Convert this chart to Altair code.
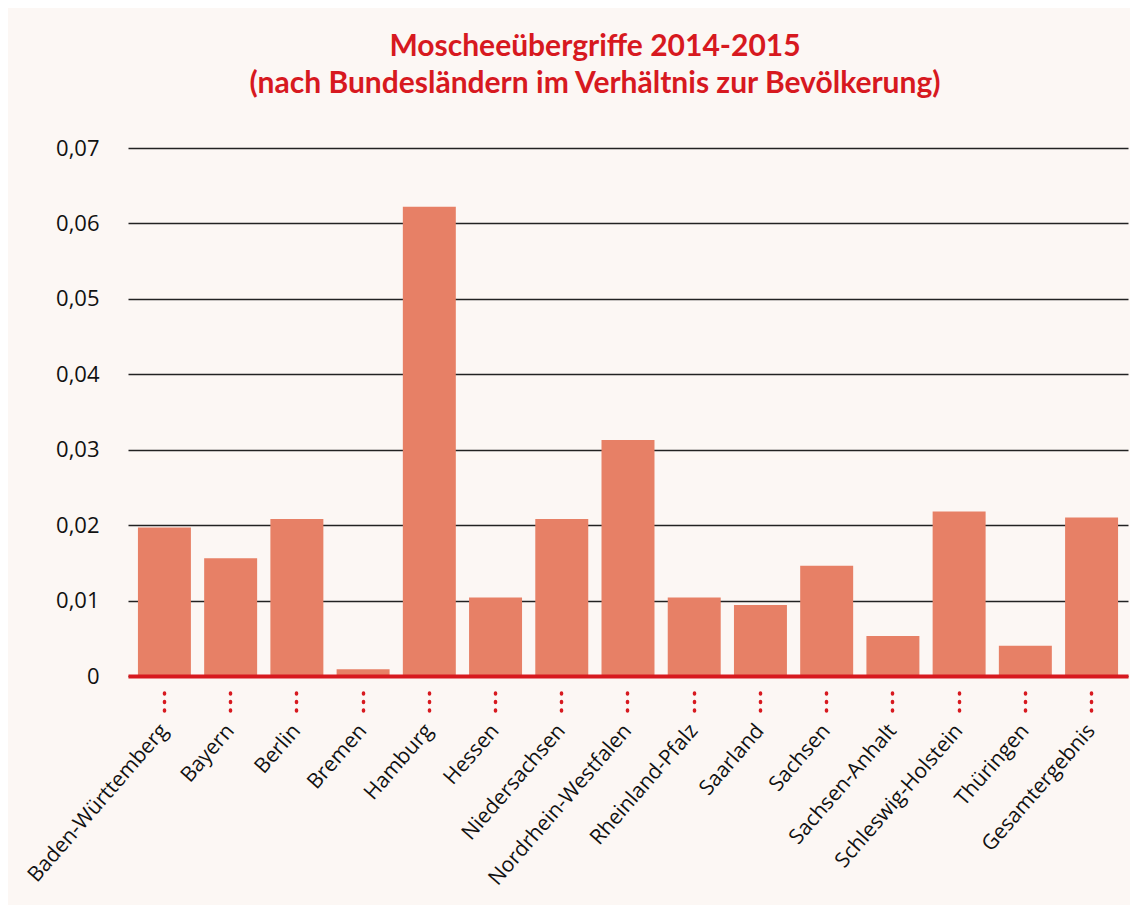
import altair as alt
import pandas as pd

laender = ["Baden-Württemberg", "Bayern", "Berlin", "Bremen", "Hamburg", "Hessen",
           "Niedersachsen", "Nordrhein-Westfalen", "Rheinland-Pfalz", "Saarland",
           "Sachsen", "Sachsen-Anhalt", "Schleswig-Holstein", "Thüringen", "Gesamtergebnis"]
werte = [0.0197, 0.0156, 0.0208, 0.0009, 0.0622, 0.0104, 0.0208, 0.0313,
         0.0104, 0.0094, 0.0146, 0.0053, 0.0218, 0.0040, 0.0210]
y_ticks = [0, 0.01, 0.02, 0.03, 0.04, 0.05, 0.06, 0.07]

df = pd.DataFrame({"land": laender, "wert": werte})

RED = "#d7191f"
TITLE_FONT = "Lato"
LABEL_FONT = "Open Sans"

chart = alt.Chart(df).mark_bar(color="#e78066").encode(
    x=alt.X("land:N", sort=laender, title=None,
            scale=alt.Scale(paddingInner=0.2, paddingOuter=0.15),
            axis=alt.Axis(labelAngle=-49, labelAlign="right", labelBaseline="middle",
                          labelFontSize=21, labelFont=LABEL_FONT, labelColor="#111",
                          labelLimit=400, labelPadding=15,
                          tickSize=36, tickColor=RED, tickWidth=3.5, tickCap="round",
                          tickDash=[1, 7.5, 1, 7.5, 1, 18], tickDashOffset=19.5,
                          domainColor=RED, domainWidth=4, zindex=1, grid=False)),
    y=alt.Y("wert:Q", title=None,
            scale=alt.Scale(domain=[0, 0.07], nice=False),
            axis=alt.Axis(values=y_ticks, grid=True, gridColor="#222", gridWidth=1.5,
                          domain=False, ticks=False, labelPadding=29,
                          labelFontSize=22, labelFont=LABEL_FONT, labelColor="#111",
                          labelExpr="datum.value == 0 ? '0' : replace(format(datum.value, '.2f'), '.', ',')")),
).properties(
    width=1000, height=528,
    title=alt.TitleParams(
        text=["Moscheeübergriffe 2014-2015",
              "(nach Bundesländern im Verhältnis zur Bevölkerung)"],
        font=TITLE_FONT, fontSize=30, fontWeight="bold", color=RED,
        anchor="middle", dx=-33, offset=38, lineHeight=37),
    autosize=alt.AutoSizeParams(type="none"),
    padding={"left": 120, "top": 140, "right": 2, "bottom": 229},
    background="#fcf7f4",
).configure_view(stroke=None)

chart.save("out.html", embed_options={"renderer": "svg", "actions": False})
